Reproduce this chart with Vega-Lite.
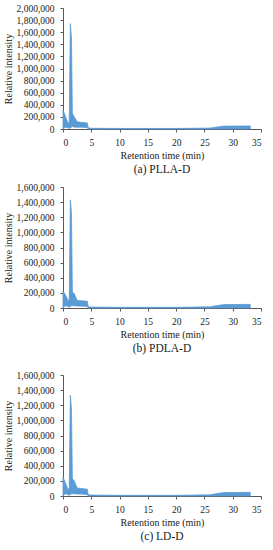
{
  "$schema": "https://vega.github.io/schema/vega-lite/v6.json",
  "padding": {"left": 3, "top": 3, "right": 4, "bottom": 2},
  "background": "white",
  "config": {
    "font": "Liberation Serif",
    "view": {"stroke": null},
    "axis": {"grid": false, "domainColor": "#595959", "tickColor": "#595959", "labelColor": "#1a1a1a", "titleColor": "#1a1a1a", "labelFont": "Liberation Serif", "titleFont": "Liberation Serif", "labelFontSize": 9.5, "titleFontSize": 10, "titleFontWeight": "normal", "tickSize": 3},
    "axisY": {"labelPadding": 6, "titlePadding": 3},
    "axisX": {"labelPadding": 5, "titlePadding": 4},
    "title": {"font": "Liberation Serif", "fontSize": 11.5, "fontWeight": "normal", "color": "#1a1a1a", "orient": "bottom", "anchor": "middle", "offset": 3}
  },
  "datasets": {
    "d": [
      {"panel": "a", "t": 0, "hi": 310000, "lo": 0},
      {"panel": "a", "t": 0.4, "hi": 220000, "lo": 30000},
      {"panel": "a", "t": 0.9, "hi": 90000, "lo": 20000},
      {"panel": "a", "t": 1.1, "hi": 120000, "lo": 10000},
      {"panel": "a", "t": 1.3, "hi": 1740000, "lo": 20000},
      {"panel": "a", "t": 1.5, "hi": 1500000, "lo": 30000},
      {"panel": "a", "t": 1.65, "hi": 260000, "lo": 40000},
      {"panel": "a", "t": 2.0, "hi": 200000, "lo": 30000},
      {"panel": "a", "t": 2.5, "hi": 120000, "lo": 30000},
      {"panel": "a", "t": 3.2, "hi": 110000, "lo": 30000},
      {"panel": "a", "t": 4.3, "hi": 100000, "lo": 25000},
      {"panel": "a", "t": 4.45, "hi": 20000, "lo": 0},
      {"panel": "a", "t": 5, "hi": 12000, "lo": 0},
      {"panel": "a", "t": 10, "hi": 9000, "lo": 0},
      {"panel": "a", "t": 20, "hi": 9000, "lo": 0},
      {"panel": "a", "t": 26, "hi": 15000, "lo": 0},
      {"panel": "a", "t": 27, "hi": 30000, "lo": 0},
      {"panel": "a", "t": 28.5, "hi": 48000, "lo": 0},
      {"panel": "a", "t": 33.1, "hi": 50000, "lo": 0},
      {"panel": "b", "t": 0, "hi": 220000, "lo": 0},
      {"panel": "b", "t": 0.4, "hi": 180000, "lo": 30000},
      {"panel": "b", "t": 0.9, "hi": 100000, "lo": 20000},
      {"panel": "b", "t": 1.1, "hi": 110000, "lo": 10000},
      {"panel": "b", "t": 1.3, "hi": 1430000, "lo": 20000},
      {"panel": "b", "t": 1.5, "hi": 1250000, "lo": 30000},
      {"panel": "b", "t": 1.65, "hi": 210000, "lo": 30000},
      {"panel": "b", "t": 2.0, "hi": 190000, "lo": 30000},
      {"panel": "b", "t": 2.5, "hi": 100000, "lo": 25000},
      {"panel": "b", "t": 3.2, "hi": 95000, "lo": 25000},
      {"panel": "b", "t": 4.3, "hi": 90000, "lo": 20000},
      {"panel": "b", "t": 4.45, "hi": 18000, "lo": 0},
      {"panel": "b", "t": 5, "hi": 12000, "lo": 0},
      {"panel": "b", "t": 10, "hi": 9000, "lo": 0},
      {"panel": "b", "t": 20, "hi": 9000, "lo": 0},
      {"panel": "b", "t": 26, "hi": 15000, "lo": 0},
      {"panel": "b", "t": 27, "hi": 30000, "lo": 0},
      {"panel": "b", "t": 28.5, "hi": 45000, "lo": 0},
      {"panel": "b", "t": 33.1, "hi": 48000, "lo": 0},
      {"panel": "c", "t": 0, "hi": 250000, "lo": 0},
      {"panel": "c", "t": 0.4, "hi": 180000, "lo": 30000},
      {"panel": "c", "t": 0.9, "hi": 80000, "lo": 20000},
      {"panel": "c", "t": 1.1, "hi": 110000, "lo": 10000},
      {"panel": "c", "t": 1.3, "hi": 1330000, "lo": 20000},
      {"panel": "c", "t": 1.5, "hi": 1150000, "lo": 30000},
      {"panel": "c", "t": 1.65, "hi": 230000, "lo": 30000},
      {"panel": "c", "t": 2.0, "hi": 200000, "lo": 30000},
      {"panel": "c", "t": 2.5, "hi": 105000, "lo": 25000},
      {"panel": "c", "t": 3.2, "hi": 100000, "lo": 25000},
      {"panel": "c", "t": 4.3, "hi": 90000, "lo": 20000},
      {"panel": "c", "t": 4.45, "hi": 18000, "lo": 0},
      {"panel": "c", "t": 5, "hi": 12000, "lo": 0},
      {"panel": "c", "t": 10, "hi": 9000, "lo": 0},
      {"panel": "c", "t": 20, "hi": 9000, "lo": 0},
      {"panel": "c", "t": 26, "hi": 15000, "lo": 0},
      {"panel": "c", "t": 27, "hi": 30000, "lo": 0},
      {"panel": "c", "t": 28.5, "hi": 45000, "lo": 0},
      {"panel": "c", "t": 33.1, "hi": 48000, "lo": 0}
    ]
  },
  "spacing": 16,
  "vconcat": [
    {
      "spacing": 7,
      "vconcat": [
        {
          "width": 198, "height": 121,
          "title": {"text": "(a) PLLA-D"},
          "data": {"name": "d"},
          "transform": [{"filter": "datum.panel === 'a'"}],
          "mark": {"type": "area", "color": "#5b9bd5", "stroke": "#5b9bd5", "strokeWidth": 0.8},
          "encoding": {
            "x": {"field": "t", "type": "quantitative", "title": "Retention time (min)", "scale": {"domain": [0, 35], "nice": false}, "axis": {"values": [0, 5, 10, 15, 20, 25, 30, 35]}},
            "y": {"field": "hi", "type": "quantitative", "title": "Relative intensity", "scale": {"domain": [0, 2000000], "nice": false}, "axis": {"format": ",.0f", "values": [0, 200000, 400000, 600000, 800000, 1000000, 1200000, 1400000, 1600000, 1800000, 2000000]}},
            "y2": {"field": "lo"}
          }
        },
        {
          "width": 198, "height": 121,
          "title": {"text": "(b) PDLA-D"},
          "data": {"name": "d"},
          "transform": [{"filter": "datum.panel === 'b'"}],
          "mark": {"type": "area", "color": "#5b9bd5", "stroke": "#5b9bd5", "strokeWidth": 0.8},
          "encoding": {
            "x": {"field": "t", "type": "quantitative", "title": "Retention time (min)", "scale": {"domain": [0, 35], "nice": false}, "axis": {"values": [0, 5, 10, 15, 20, 25, 30, 35]}},
            "y": {"field": "hi", "type": "quantitative", "title": "Relative intensity", "scale": {"domain": [0, 1600000], "nice": false}, "axis": {"format": ",.0f", "values": [0, 200000, 400000, 600000, 800000, 1000000, 1200000, 1400000, 1600000]}},
            "y2": {"field": "lo"}
          }
        }
      ]
    },
    {
      "width": 198, "height": 121,
      "title": {"text": "(c) LD-D"},
      "data": {"name": "d"},
      "transform": [{"filter": "datum.panel === 'c'"}],
      "mark": {"type": "area", "color": "#5b9bd5", "stroke": "#5b9bd5", "strokeWidth": 0.8},
      "encoding": {
        "x": {"field": "t", "type": "quantitative", "title": "Retention time (min)", "scale": {"domain": [0, 35], "nice": false}, "axis": {"values": [0, 5, 10, 15, 20, 25, 30, 35]}},
        "y": {"field": "hi", "type": "quantitative", "title": "Relative intensity", "scale": {"domain": [0, 1600000], "nice": false}, "axis": {"format": ",.0f", "values": [0, 200000, 400000, 600000, 800000, 1000000, 1200000, 1400000, 1600000]}},
        "y2": {"field": "lo"}
      }
    }
  ]
}
